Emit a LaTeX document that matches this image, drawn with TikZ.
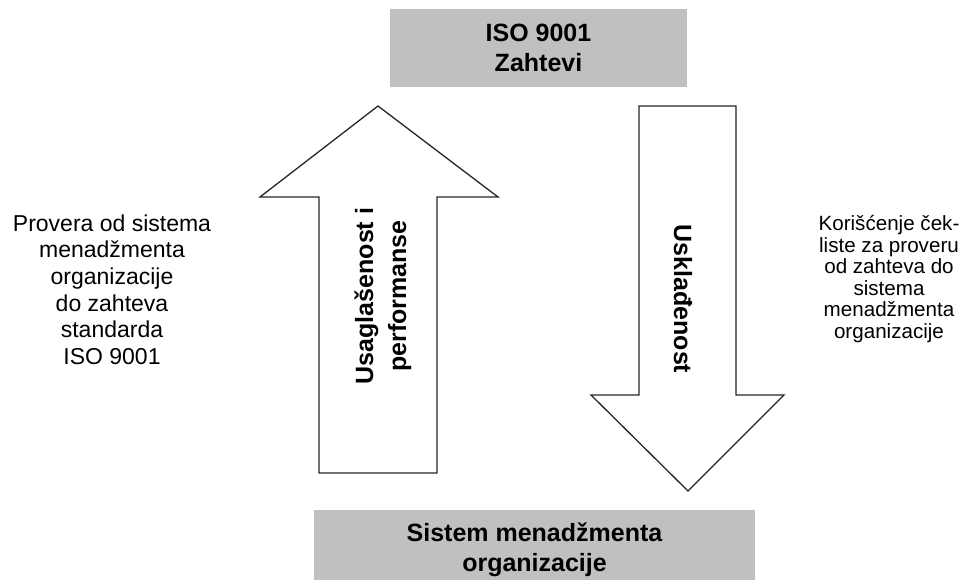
\documentclass[tikz,border=0pt]{standalone}
\usepackage{fontspec}
\setmainfont{Liberation Sans}
\usepackage{xcolor}
\usepackage{tikz}
\definecolor{boxgray}{RGB}{192,192,192}

\begin{document}
\begin{tikzpicture}[x=1pt, y=-1pt,
  graybox/.style={fill=boxgray, draw=none, align=center, font=\fontsize{25}{30}\selectfont\bfseries},
  bigarrow/.style={draw=black!85, fill=white, line width=1.3pt, line join=miter},
  arrowtext/.style={align=center, font=\fontsize{25}{33}\selectfont\bfseries},
  sidetext/.style={align=center}]

\clip (0,0) rectangle (964,580);

% Boxes
\node[graybox, minimum width=297, minimum height=78] (req) at (538.5,48) {ISO 9001\\Zahtevi};
\node[graybox, minimum width=441, minimum height=80] (qms) at (534.5,550) {Sistem menadžmenta\\organizacije};

% Up arrow
\draw[bigarrow] (319,473) -- (319,197) -- (260,197) -- (378,106) -- (498,197) -- (437,197) -- (437,473) -- cycle;
\node[arrowtext, rotate=90] (up) at (383,296) {Usaglašenost i\\performanse};

% Down arrow
\draw[bigarrow] (639,106) -- (736,106) -- (736,395) -- (784,395) -- (688,491) -- (591,395) -- (639,395) -- cycle;
\node[arrowtext, rotate=-90] (down) at (683,299) {Usklađenost};

% Side texts
\node[sidetext, font=\fontsize{23}{26.6}\selectfont] (left) at (112,289.5) {Provera od sistema\\menadžmenta\\organizacije\\do zahteva\\standarda\\ISO 9001};
\node[sidetext, font=\fontsize{20.6}{21.6}\selectfont] (right) at (889,279) {Korišćenje ček-\\liste za proveru\\od zahteva do\\sistema\\menadžmenta\\organizacije};

\end{tikzpicture}
\end{document}
